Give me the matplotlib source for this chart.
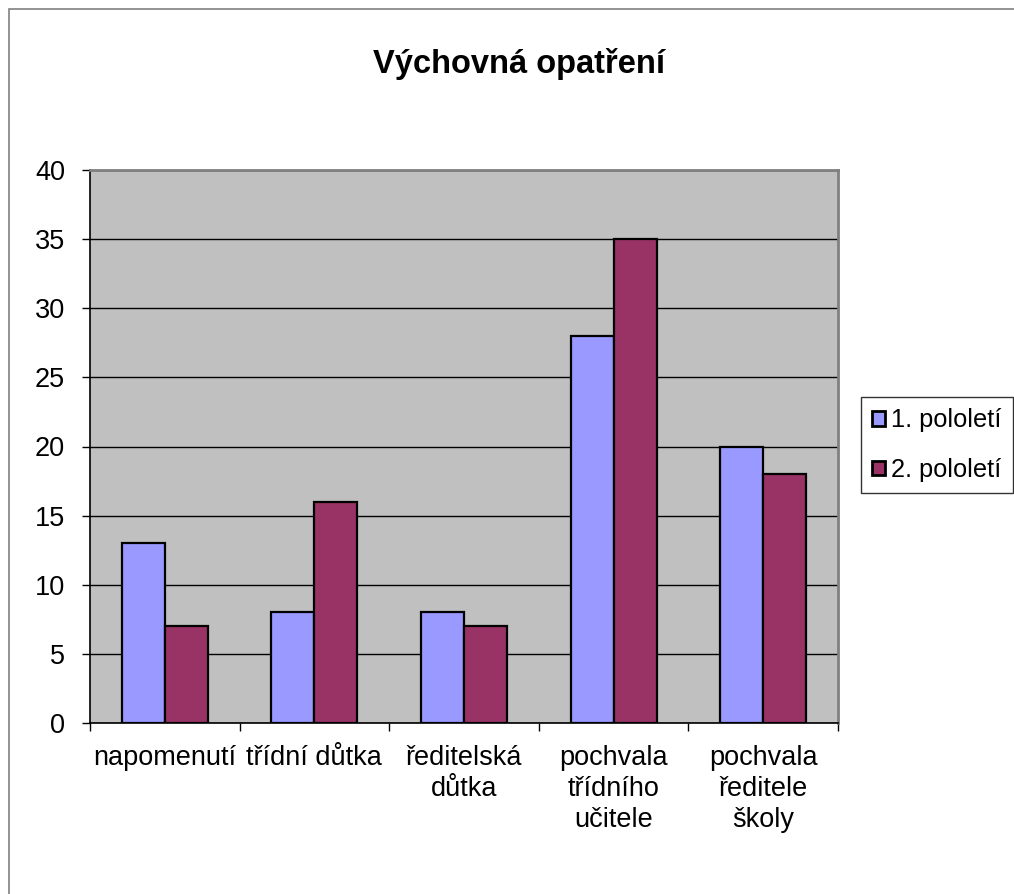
import matplotlib
matplotlib.use("Agg")
import matplotlib.pyplot as plt
import numpy as np
from matplotlib.patches import Rectangle

plt.rcParams['font.family'] = ['Liberation Sans', 'DejaVu Sans']

categories = ["napomenutí", "třídní důtka", "ředitelská\ndůtka",
              "pochvala\ntřídního\nučitele", "pochvala\nředitele\nškoly"]
series_names = ["1. pololetí", "2. pololetí"]
values_1 = [13, 8, 8, 28, 20]
values_2 = [7, 16, 7, 35, 18]
yticks = [0, 5, 10, 15, 20, 25, 30, 35, 40]
title = "Výchovná opatření"

W, H = 1014, 894
fig = plt.figure(figsize=(W / 100, H / 100), dpi=100)
fig.patch.set_facecolor("white")

# outer chart border
fig.patches.append(Rectangle((9 / W, -0.01), 1.2, (H - 9) / H + 0.01,
                             transform=fig.transFigure, fill=False,
                             edgecolor="#808080", linewidth=1.2))

left, right, top, bottom = 90, 838, 170, 723
ax = fig.add_axes([left / W, 1 - bottom / H, (right - left) / W, (bottom - top) / H])
ax.set_facecolor("#C0C0C0")

x = np.arange(len(categories))
bw = 0.288
ax.bar(x - bw / 2, values_1, bw, color="#9999FF", edgecolor="black", linewidth=1.6,
       label=series_names[0], zorder=3)
ax.bar(x + bw / 2, values_2, bw, color="#993366", edgecolor="black", linewidth=1.6,
       label=series_names[1], zorder=3)

ax.set_xlim(-0.5, len(categories) - 0.5)
ax.set_ylim(0, 40)
ax.set_yticks(yticks)
ax.yaxis.grid(True, color="black", linewidth=1.0, zorder=1)
ax.set_axisbelow(True)

ax.set_xticks(np.arange(len(categories) + 1) - 0.5)
ax.set_xticklabels([])
ax.set_xticks(x, minor=True)
ax.set_xticklabels(categories, minor=True, fontsize=19.5, linespacing=1.24)
ax.tick_params(axis="x", which="minor", length=0, pad=16)
ax.tick_params(axis="x", which="major", length=6, width=1, color="black")
ax.tick_params(axis="y", length=6, width=1, labelsize=19.5, pad=12)

for s in ["top", "right"]:
    ax.spines[s].set_color("#808080")
    ax.spines[s].set_linewidth(2)
for s in ["left", "bottom"]:
    ax.spines[s].set_color("black")
    ax.spines[s].set_linewidth(1.2)

fig.text(519 / W, 1 - 64 / H, title, ha="center", va="center",
         fontsize=23.5, fontweight="bold")

leg = fig.legend(loc="upper left", bbox_to_anchor=(861 / W, 1 - 397 / H),
                 fontsize=18.3, frameon=True, fancybox=False, edgecolor="black",
                 handlelength=0.5, handleheight=0.5, handletextpad=0.22,
                 labelspacing=1.0, borderpad=0.45, borderaxespad=0)
leg.get_frame().set_linewidth(1.0)
for h in leg.legend_handles:
    h.set_linewidth(2)

fig.savefig("out.png", dpi=100)
